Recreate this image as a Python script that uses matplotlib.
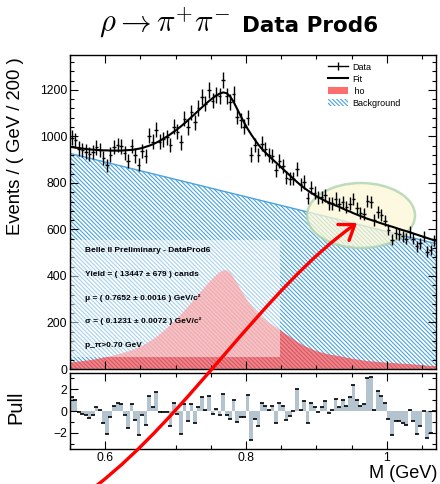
import numpy as np
import matplotlib
matplotlib.use("Agg")
import matplotlib.pyplot as plt
from matplotlib.patches import Patch, Ellipse, FancyArrowPatch, Rectangle
from matplotlib.lines import Line2D
from matplotlib.path import Path
from matplotlib.ticker import MultipleLocator

plt.rcParams['font.family'] = ['Liberation Sans', 'DejaVu Sans']
plt.rcParams['mathtext.fontset'] = 'cm'
plt.rcParams['hatch.linewidth'] = 0.8

# binning: 104 bins of 0.005 GeV between 0.55 and 1.07
m_lo, m_hi, bin_w = 0.55, 1.07, 0.005

counts = [994, 983, 948, 940, 935, 924, 932, 953, 943, 906,
          875, 922, 954, 962, 957, 928, 893, 960, 918, 879,
          938, 915, 1003, 977, 1028, 978, 988, 996, 964, 1042,
          1021, 974, 1076, 1040, 1103, 1061, 1123, 1169, 1141, 1199,
          1154, 1180, 1172, 1242, 1174, 1148, 1184, 1085, 1070, 1041,
          1080, 922, 962, 921, 969, 945, 919, 917, 854, 896,
          873, 823, 818, 818, 861, 794, 804, 736, 779, 758,
          738, 740, 747, 712, 712, 732, 708, 716, 696, 711,
          731, 691, 671, 667, 722, 719, 639, 676, 661, 638,
          599, 556, 584, 580, 570, 561, 589, 561, 528, 540,
          568, 505, 511, 554]

pulls = [1.3, 1.0, -0.05, -0.25, -0.35, -0.65, -0.35, 0.35, 0.05, -1.1,
         -2.1, -0.55, 0.5, 0.75, 0.6, -0.4, -1.55, 0.6, -0.85, -2.2,
         -0.4, -1.3, 1.4, 0.35, 1.75, -0.1, -0.05, -0.1, -1.4, 0.7,
         -0.3, -2.15, 0.6, -0.9, 0.6, -1.1, 0.35, 1.3, 0.05, 1.4,
         -0.3, 0.15, -0.35, 1.55, -0.35, -0.7, 1.05, -1.0, -0.55, -0.55,
         1.5, -2.7, -0.75, -1.4, 0.7, 0.45, 0.1, 0.5, -1.15, 0.75,
         0.45, -0.8, -0.5, 0.0, 2.0, 0.1, 0.9, -1.15, 0.75, 0.35,
         -0.05, 0.35, 0.9, -0.15, 0.1, 1.1, 0.4, 1.0, 0.5, 1.3,
         2.35, 1.05, 0.5, 0.6, 3.0, 3.1, 0.1, 1.8, 1.4, 0.7,
         -0.7, -2.25, -0.95, -0.9, -1.1, -1.3, 0.05, -0.9, -2.1, -1.4,
         0.0, -2.45, -2.0, 0.0]

# fit curve read at the bin centres, plus its values at the two range edges
fit = [954, 952, 950, 948, 946, 944, 943, 942, 941, 940,
       940, 939, 939, 939, 939, 940, 941, 942, 944, 947,
       950, 955, 960, 966, 973, 981, 990, 999, 1009, 1020,
       1031, 1043, 1056, 1069, 1083, 1097, 1111, 1125, 1139, 1152,
       1164, 1175, 1184, 1189, 1186, 1172, 1148, 1118, 1088, 1059,
       1032, 1008, 986, 965, 947, 931, 916, 902, 888, 874,
       860, 846, 832, 818, 804, 791, 779, 768, 758, 748,
       739, 731, 723, 716, 709, 703, 697, 690, 683, 677,
       670, 664, 658, 652, 646, 641, 636, 631, 626, 621,
       616, 612, 607, 602, 597, 593, 588, 583, 578, 573,
       568, 563, 558, 554]
fit_ends = [955, 552]

bkg_mass = [0.55, 1.07]
bkg_vals = [927, 539]

centers = m_lo + bin_w * (np.arange(len(counts)) + 0.5)
fit_x = np.r_[m_lo, centers, m_hi]
fit_y = np.r_[fit_ends[0], fit, fit_ends[1]]
sig_y = fit_y - np.interp(fit_x, bkg_mass, bkg_vals)

W, H = 440, 484
fig = plt.figure(figsize=(W / 100, H / 100), dpi=100)
ax = fig.add_axes([70 / W, 1 - 369 / H, 366 / W, 314 / H])
axp = fig.add_axes([70 / W, 1 - 449 / H, 366 / W, 76 / H])

blue = '#4aa3df'
red = '#ff3b3b'
hatch = '\\' * 8

# hatched background with the signal component laid over it
ax.fill_between(bkg_mass, 0, bkg_vals, facecolor='none', edgecolor=blue,
                hatch=hatch, lw=0, zorder=1)
ax.plot(bkg_mass, bkg_vals, color=blue, lw=1.0, zorder=1.6)
ax.fill_between(fit_x, 0, sig_y, facecolor=red, alpha=0.65, lw=0, zorder=1.5)

# stats box
ax.add_patch(Rectangle((0.0, 0.038), 0.574, 0.372, transform=ax.transAxes,
                       facecolor='white', alpha=0.5, lw=0, zorder=2))
box_lines = ['Belle II Preliminary - DataProd6',
             'Yield = ( 13447 ± 679 ) cands',
             'μ = ( 0.7652 ± 0.0016 ) GeV/c²',
             'σ = ( 0.1231 ± 0.0072 ) GeV/c²',
             'p_π>0.70 GeV']
for i, s in enumerate(box_lines):
    ax.text(0.041, 0.376 - i * 0.075, s, transform=ax.transAxes, fontsize=6,
            fontweight='bold', va='center', ha='left', zorder=5)

# highlight ellipse
ax.add_patch(Ellipse((361 / W, 1 - 215.5 / H), 108 / W, 65 / H,
                     transform=fig.transFigure, facecolor='#fbf7d6', alpha=0.75,
                     edgecolor='#a9d1a9', lw=1.8, zorder=2.5, clip_on=False))

ax.plot(fit_x, fit_y, color='black', lw=1.5, zorder=3)
ax.errorbar(centers, counts, xerr=bin_w / 2, yerr=np.sqrt(counts), fmt='none',
            ecolor='black', elinewidth=1.0, capsize=0, zorder=4)

ax.set_xlim(m_lo, m_hi)
ax.set_ylim(0, 1350)
ax.xaxis.set_major_locator(MultipleLocator(0.2))
ax.xaxis.set_minor_locator(MultipleLocator(0.05))
ax.yaxis.set_major_locator(MultipleLocator(200))
ax.yaxis.set_minor_locator(MultipleLocator(40))
ax.tick_params(labelbottom=False)

handles = [Line2D([], [], color='black', lw=1, marker='|', ms=6, mew=1),
           Line2D([], [], color='black', lw=1.5),
           Patch(facecolor=red, alpha=0.75, lw=0),
           Patch(facecolor='white', edgecolor=blue, hatch=hatch, lw=0)]
ax.legend(handles, ['Data', 'Fit', ' ho', 'Background'], loc='upper left',
          bbox_to_anchor=(0.705, 0.975), frameon=False, fontsize=6.5,
          handlelength=2.2, handleheight=0.9, handletextpad=0.5,
          labelspacing=0.32, borderpad=0, borderaxespad=0)

# pull pad
axp.bar(centers, pulls, width=bin_w, color='#b3c3cf', lw=0, zorder=1)
axp.plot(centers, pulls, ls='none', marker='_', ms=2.5, mew=1.2,
         color='black', zorder=2)
axp.set_xlim(m_lo, m_hi)
axp.set_ylim(-3.5, 3.5)
axp.xaxis.set_major_locator(MultipleLocator(0.2))
axp.xaxis.set_minor_locator(MultipleLocator(0.05))
axp.yaxis.set_major_locator(MultipleLocator(2))
axp.yaxis.set_minor_locator(MultipleLocator(1))
axp.set_xticks([0.6, 0.8, 1.0], ['0.6', '0.8', '1'])

for a in (ax, axp):
    a.tick_params(which='both', direction='in', top=True, right=True,
                  labelsize=8.8, pad=2, width=0.8)
    a.tick_params(which='major', length=5.5)
    a.tick_params(which='minor', length=3)
    for sp in a.spines.values():
        sp.set_linewidth(1.0)

fig.text(16 / W, 1 - 146 / H, 'Events / ( GeV / 200 )', rotation=90,
         ha='center', va='center', fontsize=13.3)
fig.text(16 / W, 1 - 407 / H, 'Pull', rotation=90, ha='center', va='center',
         fontsize=14.5)
fig.text(437 / W, 1 - 478 / H, 'M (GeV)', ha='right', va='baseline',
         fontsize=13.1)

# title: greek part in math italic, text part bold
fig.text(230 / W, 1 - 32 / H, r'$\rho \rightarrow \pi^{+}\pi^{-}$',
         ha='right', va='baseline', fontsize=22)
fig.text(242 / W, 1 - 32 / H, 'Data Prod6', ha='left', va='baseline',
         fontsize=15.5, fontweight='bold', family='DejaVu Sans')

# red arrow
p0, p1, p2, p3 = (96, 486), (187, 416), (267, 286), (357, 223)
arrow_path = Path([(x / W, 1 - y / H) for x, y in (p0, p1, p2, p3)],
                  [Path.MOVETO, Path.CURVE4, Path.CURVE4, Path.CURVE4])
fig.add_artist(FancyArrowPatch(path=arrow_path, transform=fig.transFigure,
                               arrowstyle='->,head_length=0.7,head_width=0.5',
                               mutation_scale=14, color='red', lw=2.4,
                               zorder=10))

fig.savefig('out.png', dpi=100)
